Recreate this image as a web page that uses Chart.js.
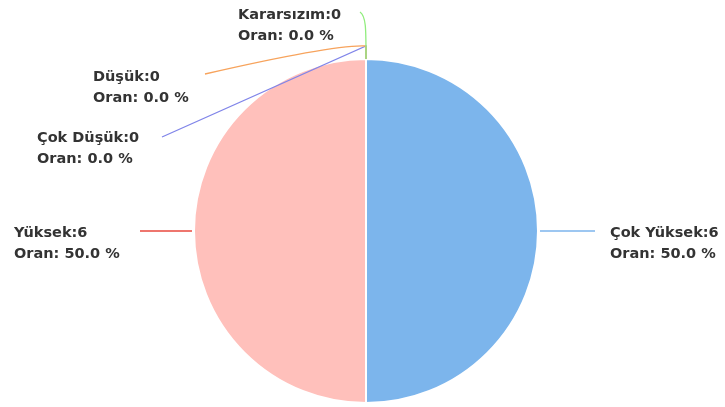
<!DOCTYPE html>
<html>
<head>
<meta charset="utf-8">
<script src="https://cdn.jsdelivr.net/npm/chart.js@4"></script>
<style>
  html, body { margin: 0; padding: 0; background: #fff; }
  .chart { width: 725px; height: 407px; position: relative; }
</style>
</head>
<body>
<div class="chart"><canvas id="myChart"></canvas></div>
<script>
const categories = ["Çok Yüksek", "Yüksek", "Çok Düşük", "Düşük", "Kararsızım"];
const counts = [6, 6, 0, 0, 0];
const sliceColors = ["#7cb5ec", "#ffc0bb", "#8085e9", "#f7a35c", "#90ed7d"];
const lineColors = ["#7cb5ec", "#e8483e", "#8085e9", "#f7a35c", "#90ed7d"];

// label placement: text x / first line y, leader end point
const labelLayout = [
  { tx: 610, ty: 233, ex: 595, ey: 232 },
  { tx: 14, ty: 233, ex: 140, ey: 232 },
  { tx: 37, ty: 138, ex: 162, ey: 137 },
  { tx: 93, ty: 77, ex: 205, ey: 74 },
  { tx: 238, ty: 15, ex: 360, ey: 12 }
];

const total = counts.reduce((a, b) => a + b, 0);

const pieLabels = {
  id: "pieLabels",
  afterDatasetsDraw(chart) {
    const ctx = chart.ctx;
    const meta = chart.getDatasetMeta(0);
    ctx.save();
    meta.data.forEach((arc, i) => {
      const p = arc.getProps(["x", "y", "startAngle", "endAngle", "outerRadius"], true);
      const mid = (p.startAngle + p.endAngle) / 2;
      const sx = p.x + Math.cos(mid) * p.outerRadius;
      const sy = p.y + Math.sin(mid) * p.outerRadius;
      const L = labelLayout[i];
      ctx.strokeStyle = lineColors[i];
      ctx.lineWidth = 1.3;
      ctx.beginPath();
      if (counts[i] > 0) {
        const gx = sx + Math.cos(mid) * 2;
        ctx.moveTo(gx, sy);
        ctx.lineTo(L.ex, sy);
      } else {
        const bx = sx;
        const by = sy - 13;
        ctx.moveTo(sx, sy);
        ctx.lineTo(bx, by);
        if (i === 4) {
          ctx.moveTo(sx, sy - 4);
          ctx.bezierCurveTo(sx, sy - 30, L.ex + 6, L.ey + 4, L.ex, L.ey);
        } else if (i === 3) {
          ctx.moveTo(bx, by);
          ctx.quadraticCurveTo(bx - 30, by - 2, L.ex, L.ey);
        } else {
          ctx.lineTo(L.ex, L.ey);
        }
      }
      ctx.stroke();

      const pct = total ? (counts[i] / total * 100).toFixed(1) : "0.0";
      ctx.fillStyle = "#333";
      ctx.font = "bold 14.5px 'DejaVu Sans', sans-serif";
      ctx.textAlign = "left";
      ctx.textBaseline = "middle";
      ctx.fillText(categories[i] + ":" + counts[i], L.tx, L.ty);
      ctx.fillText("Oran: " + pct + " %", L.tx, L.ty + 21);
    });
    ctx.restore();
  }
};

new Chart(document.getElementById("myChart"), {
  type: "pie",
  data: {
    labels: categories,
    datasets: [{
      data: counts,
      backgroundColor: sliceColors,
      borderColor: "#fff",
      borderWidth: 2
    }]
  },
  options: {
    responsive: true,
    maintainAspectRatio: false,
    animation: false,
    layout: { padding: { top: 58, bottom: 3, left: 7, right: 0 } },
    plugins: {
      legend: { display: false },
      tooltip: { enabled: false }
    }
  },
  plugins: [pieLabels]
});
</script>
</body>
</html>
